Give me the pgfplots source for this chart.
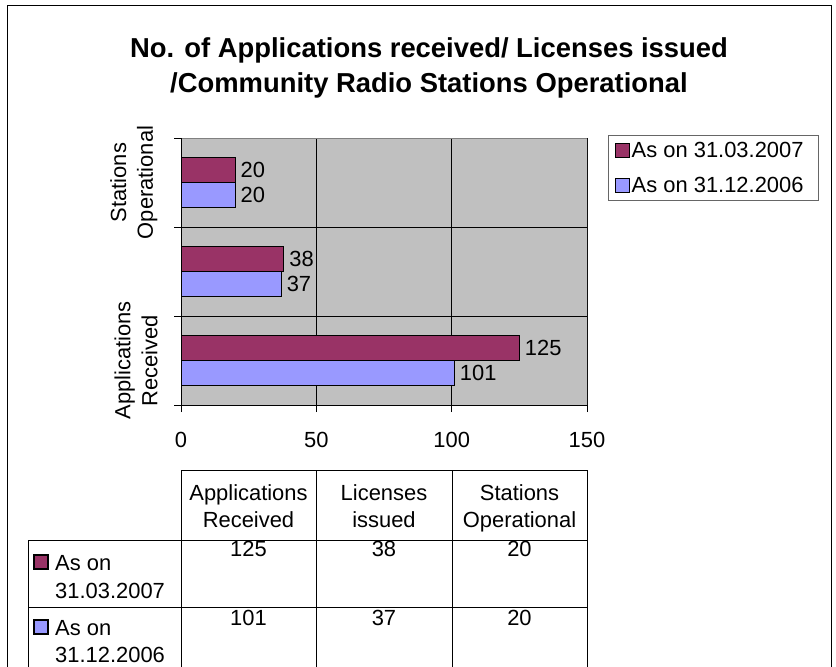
\documentclass[border=0pt]{standalone}
\usepackage{fontspec}
\setmainfont{Liberation Sans}
\usepackage{pgfplots}
\pgfplotsset{compat=1.18}
\definecolor{cmaroon}{RGB}{153,51,102}
\definecolor{cblue}{RGB}{153,153,255}
\definecolor{cgray}{RGB}{192,192,192}
\newcommand\F{\fontsize{22}{27}\selectfont}
\begin{document}
\begin{tikzpicture}
\begin{scope}[x=1bp,y=-1bp]
\draw[black, line width=1bp] (7,5) rectangle (831,680);
% title
\node[anchor=base, font=\fontsize{27.5}{35}\selectfont\bfseries, inner sep=0] at (429,57) {No. of Applications received/ Licenses issued};
\node[anchor=base, font=\fontsize{27.5}{35}\selectfont\bfseries, inner sep=0] at (429,92) {/Community Radio Stations Operational};
\end{scope}
\begin{axis}[
  at={(181bp,-405bp)}, anchor=south west,
  scale only axis, width=406bp, height=267bp,
  xbar, bar width=25bp,
  xmin=0, xmax=150, ymin=-0.5, ymax=2.5,
  xtick={0,50,100,150},
  ytick={-0.5,0.5,1.5,2.5}, yticklabels={},
  extra y ticks={0,2},
  extra y tick labels={{Applications\\Received},{Stations\\Operational}},
  extra y tick style={grid=none, major tick length=0pt,
     yticklabel style={rotate=90, anchor=south, align=center}},
  yticklabel shift=20bp,
  xmajorgrids, ymajorgrids,
  grid style={black, line width=0.8bp},
  tick align=outside, major tick length=7bp, tick pos=left,
  tick style={black, line width=0.8bp},
  axis line style={draw=none},
  axis background/.style={fill=cgray},
  /pgf/number format/assume math mode=true,
  ticklabel style={font=\F},
  xticklabel shift=17bp,
  nodes near coords,
  nodes near coords style={font=\F, black, anchor=west, inner sep=5bp},
  legend style={at={(1.052,1.013)}, anchor=north west, draw=black!60,
     fill=white, font=\F, inner xsep=6bp, inner ysep=5bp, row sep=14bp,
     line width=0.8bp, cells={anchor=west},
     /tikz/every even column/.append style={column sep=7bp}},
  reverse legend,
  legend image code/.code={\draw[#1, line width=1.2bp] (0bp,-7bp) rectangle (14bp,7bp);},
]
\addplot[fill=cblue, draw=black, line width=1.2bp, bar shift=-12.5bp] coordinates {(101,0) (37,1) (20,2)};
\addlegendentry{As on 31.12.2006\rule{7bp}{0pt}}
\addplot[fill=cmaroon, draw=black, line width=1.2bp, bar shift=12.5bp] coordinates {(125,0) (38,1) (20,2)};
\addlegendentry{As on 31.03.2007\rule{7bp}{0pt}}
\draw[black!50, line width=0.8bp] (rel axis cs:0,1) -- (rel axis cs:1,1) -- (rel axis cs:1,0);
\draw[black, line width=0.8bp] (rel axis cs:0,1) -- (rel axis cs:0,0) -- (rel axis cs:1,0);
\end{axis}
\begin{scope}[x=1bp,y=-1bp]
% data table
\draw[black, line width=0.8bp] (181,470) -- (587,470);
\draw[black, line width=0.8bp] (28,540) -- (587,540);
\draw[black, line width=0.8bp] (28,607) -- (587,607);
\foreach \xx in {181,316,452,587} \draw[black, line width=0.8bp] (\xx,470) -- (\xx,680);
\draw[black, line width=0.8bp] (28,540) -- (28,680);
\foreach \xx/\a/\b in {248.5/Applications/Received, 384/Licenses/issued, 519.5/Stations/Operational}{
  \node[anchor=base, font=\F, inner sep=0] at (\xx,500) {\a};
  \node[anchor=base, font=\F, inner sep=0] at (\xx,527) {\b};
}
\foreach \xx/\a/\b in {248.5/125/101, 384/38/37, 519.5/20/20}{
  \node[anchor=base, font=\F, inner sep=0] at (\xx,556) {\a};
  \node[anchor=base, font=\F, inner sep=0] at (\xx,625) {\b};
}
\draw[fill=cmaroon, draw=black, line width=1.2bp] (34,555) rectangle (48,569);
\draw[fill=cblue, draw=black, line width=1.2bp] (34,620) rectangle (48,634);
\node[anchor=base west, font=\F, inner sep=0] at (55,570) {As on};
\node[anchor=base west, font=\F, inner sep=0] at (55,598) {31.03.2007};
\node[anchor=base west, font=\F, inner sep=0] at (55,635) {As on};
\node[anchor=base west, font=\F, inner sep=0] at (55,662) {31.12.2006};
\end{scope}
\pgfresetboundingbox
\path[use as bounding box] (0,0) rectangle (836bp,-667bp);
\end{tikzpicture}
\end{document}
